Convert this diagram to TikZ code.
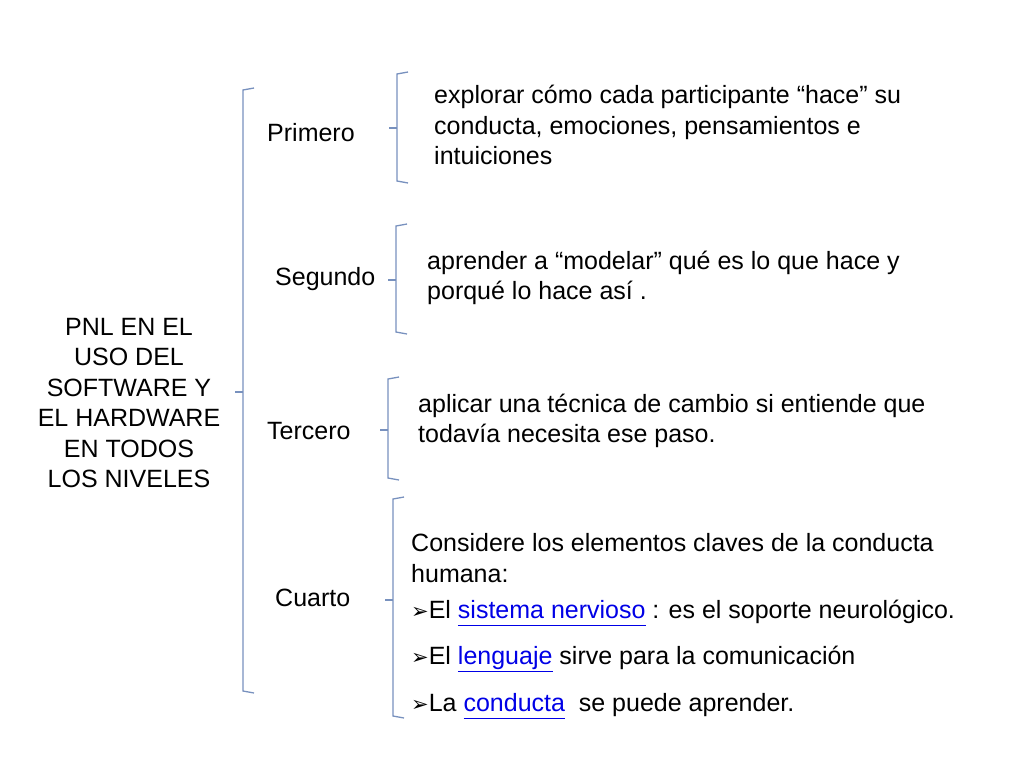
\documentclass[tikz,border=0pt]{standalone}
\usepackage{fontspec}
\setmainfont{Liberation Sans}
\newfontfamily\dvs{DejaVu Sans}
\definecolor{brc}{RGB}{120,145,190}
\definecolor{lnk}{RGB}{0,0,230}
\newcommand{\lk}[1]{\textcolor{lnk}{\underline{#1\vphantom{gj}}}}
\newcommand{\arw}{{\dvs\fontsize{21}{24}\selectfont ➢}}
\begin{document}
\begin{tikzpicture}[x=1pt,y=-1pt,
  txt/.style={anchor=west,inner sep=0pt,align=left,font=\fontsize{25}{30.5}\selectfont},
  brace/.style={draw=brc,line width=1.3pt}]
\useasboundingbox (0,0) rectangle (1024,768);
\newcommand{\brk}[4]{\draw[brace] (#1+11,#2) -- (#1,#2+2) -- (#1,#4-2) -- (#1+11,#4); \draw[brace] (#1,#3) -- (#1-8,#3);}
\brk{243}{88}{392}{693}
\brk{397}{72}{128}{183}
\brk{396}{224}{280}{334}
\brk{388}{377}{430}{480}
\brk{393}{497}{600}{718}
\node[txt,anchor=center,align=center] (main) at (129,403) {PNL EN EL\\USO DEL\\SOFTWARE Y\\EL HARDWARE\\EN TODOS\\LOS NIVELES};
\node[txt] (p1) at (267,133) {Primero};
\node[txt] (p2) at (275,279) {Segundo};
\node[txt] (p3) at (267,431) {Tercero};
\node[txt] (p4) at (275,598) {Cuarto};
\node[txt] (d1) at (434,125) {explorar cómo cada participante “hace” su\\conducta, emociones, pensamientos e\\intuiciones};
\node[txt] (d2) at (427,278) {aprender a “modelar” qué es lo que hace y\\porqué lo hace así .};
\node[txt] (d3) at (418,421) {aplicar una técnica de cambio si entiende que\\todavía necesita ese paso.};
\node[txt] (d4) at (411,558) {Considere los elementos claves de la conducta\\humana:};
\node[txt] (b1) at (411,613) {\arw El \lk{sistema nervioso} : es el soporte neurológico.};
\node[txt] (b2) at (411,659) {\arw El \lk{lenguaje} sirve para la comunicación};
\node[txt] (b3) at (411,706) {\arw La \lk{conducta}\ \ se puede aprender.};
\end{tikzpicture}
\end{document}
